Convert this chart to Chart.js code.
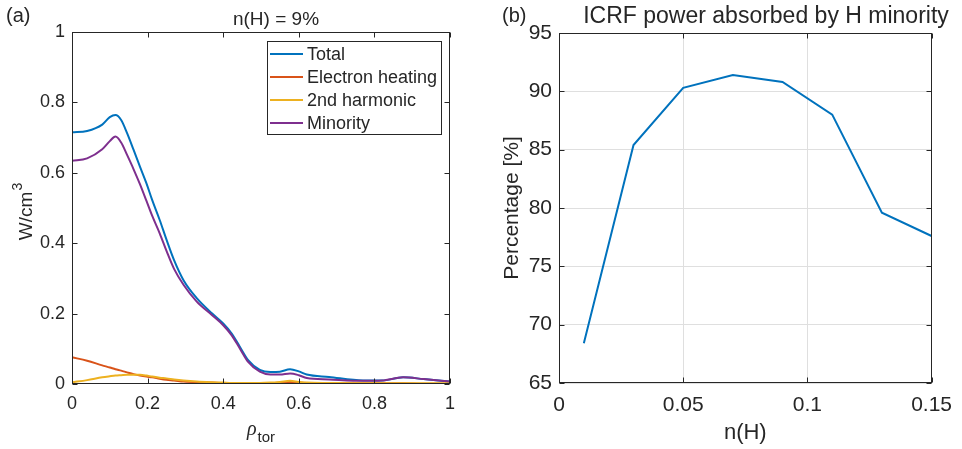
<!DOCTYPE html>
<html>
<head>
<meta charset="utf-8">
<script src="https://cdn.jsdelivr.net/npm/chart.js@4"></script>
<style>
  html, body { margin: 0; padding: 0; background: #fff; }
  #wrap { position: relative; width: 962px; height: 449px; }
  .panel { position: absolute; top: 0; }
</style>
</head>
<body>
<div id="wrap">
  <div class="panel" style="left:0"><canvas id="left" width="480" height="449"></canvas></div>
  <div class="panel" style="left:480px"><canvas id="right" width="482" height="449"></canvas></div>
</div>
<script>
// panel (a): power density profiles vs rho_tor
const rho = [0, 0.04, 0.08, 0.1, 0.115, 0.13, 0.146, 0.163, 0.18, 0.197, 0.212, 0.232, 0.25, 0.27, 0.295, 0.33, 0.37, 0.4, 0.422, 0.444, 0.466, 0.497, 0.525, 0.55, 0.577, 0.6, 0.621, 0.68, 0.77, 0.82, 0.876, 0.93, 1.0];
const total = [0.715, 0.719, 0.737, 0.758, 0.764, 0.750, 0.712, 0.665, 0.617, 0.570, 0.523, 0.466, 0.410, 0.352, 0.295, 0.244, 0.201, 0.172, 0.144, 0.106, 0.068, 0.040, 0.034, 0.035, 0.042, 0.036, 0.027, 0.020, 0.010, 0.010, 0.019, 0.014, 0.007];
const electron = [0.076, 0.066, 0.053, 0.047, 0.042, 0.038, 0.033, 0.028, 0.024, 0.021, 0.019, 0.015, 0.012, 0.010, 0.007, 0.005, 0.004, 0.003, 0.003, 0.003, 0.003, 0.003, 0.003, 0.004, 0.006, 0.004, 0.003, 0.002, 0.002, 0.002, 0.002, 0.001, 0.001];
const second = [0.005, 0.011, 0.019, 0.022, 0.024, 0.025, 0.026, 0.026, 0.026, 0.024, 0.021, 0.018, 0.016, 0.013, 0.010, 0.007, 0.005, 0.004, 0.003, 0.003, 0.003, 0.003, 0.004, 0.006, 0.009, 0.006, 0.004, 0.003, 0.002, 0.002, 0.002, 0.002, 0.002];
const minority = [0.634, 0.641, 0.667, 0.690, 0.703, 0.686, 0.650, 0.610, 0.567, 0.520, 0.478, 0.428, 0.378, 0.327, 0.282, 0.234, 0.196, 0.167, 0.139, 0.101, 0.063, 0.035, 0.027, 0.027, 0.030, 0.025, 0.017, 0.013, 0.009, 0.010, 0.019, 0.014, 0.007];
const seriesNames = ["Total", "Electron heating", "2nd harmonic", "Minority"];
const seriesColors = ["#0072BD", "#D95319", "#EDB120", "#7E2F8E"];

// panel (b): absorbed fraction vs n(H)
const nH = [0.01, 0.03, 0.05, 0.07, 0.09, 0.11, 0.13, 0.15];
const percent = [68.4, 85.4, 90.3, 91.4, 90.8, 88.0, 79.6, 77.6];

const ink = "#262626";
const fam = "'Liberation Sans', Arial, sans-serif";
const fmt = v => String(+Number(v).toFixed(2));

// MATLAB style box with inward ticks, plus free text
const matlabBox = {
  id: "matlabBox",
  afterDraw(chart, args, opts) {
    const { ctx, chartArea: a, scales } = chart;
    const L = Math.round(a.left) + 0.5, R = Math.round(a.right) - 0.5;
    const T = Math.round(a.top) + 0.5, B = Math.round(a.bottom) - 0.5;
    ctx.save();
    ctx.strokeStyle = ink;
    ctx.lineWidth = 1;
    ctx.beginPath();
    scales.x.ticks.forEach(t => {
      const p = Math.round(scales.x.getPixelForValue(t.value)) + 0.5;
      ctx.moveTo(p, B); ctx.lineTo(p, B - 5);
      ctx.moveTo(p, T); ctx.lineTo(p, T + 5);
    });
    scales.y.ticks.forEach(t => {
      const p = Math.round(scales.y.getPixelForValue(t.value)) + 0.5;
      ctx.moveTo(L, p); ctx.lineTo(L + 5, p);
      ctx.moveTo(R, p); ctx.lineTo(R - 5, p);
    });
    ctx.stroke();
    ctx.strokeRect(L, T, R - L, B - T);

    ctx.fillStyle = ink;
    ctx.textBaseline = "middle";
    (opts.texts || []).forEach(t => {
      ctx.font = t.font;
      ctx.textAlign = t.align || "center";
      ctx.fillText(t.text, t.x, t.y);
    });

    if (opts.legend) {
      const lg = opts.legend;
      ctx.fillStyle = "#fff";
      ctx.fillRect(lg.x, lg.y, lg.w, lg.h);
      ctx.strokeRect(lg.x + 0.5, lg.y + 0.5, lg.w, lg.h);
      ctx.font = "18px " + fam;
      ctx.textAlign = "left";
      chart.data.datasets.forEach((ds, i) => {
        const cy = lg.y + 13 + i * 23;
        ctx.strokeStyle = ds.borderColor;
        ctx.lineWidth = 2;
        ctx.beginPath();
        ctx.moveTo(lg.x + 3, cy); ctx.lineTo(lg.x + 36, cy);
        ctx.stroke();
        ctx.fillStyle = ink;
        ctx.fillText(ds.label, lg.x + 40, cy + 1);
      });
    }

    if (opts.rhoLabel) {
      const r = opts.rhoLabel;
      ctx.fillStyle = ink;
      ctx.textAlign = "left";
      ctx.font = "italic 20px 'Liberation Serif', serif";
      ctx.fillText("\u03C1", r.x, r.y);
      const w = ctx.measureText("\u03C1").width;
      ctx.font = "15px " + fam;
      ctx.fillText("tor", r.x + w + 1, r.y + 8);
    }

    if (opts.unitLabel) {
      // W/cm^3 rotated, with a real superscript
      const u = opts.unitLabel;
      ctx.translate(u.x, u.y);
      ctx.rotate(-Math.PI / 2);
      ctx.fillStyle = ink;
      ctx.font = "19px " + fam;
      const w1 = ctx.measureText("W/cm").width;
      ctx.font = "14px " + fam;
      const w2 = ctx.measureText("3").width;
      const x0 = -(w1 + w2) / 2;
      ctx.textAlign = "left";
      ctx.font = "19px " + fam;
      ctx.fillText("W/cm", x0, 0);
      ctx.font = "14px " + fam;
      ctx.fillText("3", x0 + w1 + 1, -9);
    }
    ctx.restore();
  }
};

function fixBox(w, h) {
  return s => { if (w != null) s.width = w; if (h != null) s.height = h; };
}

new Chart(document.getElementById("left"), {
  type: "line",
  data: {
    datasets: [total, electron, second, minority].map((vals, i) => ({
      label: seriesNames[i],
      data: rho.map((r, k) => ({ x: r, y: vals[k] })),
      borderColor: seriesColors[i],
      borderWidth: 2,
      pointRadius: 0,
      cubicInterpolationMode: "monotone",
      order: 4 - i
    }))
  },
  options: {
    responsive: false,
    animation: false,
    layout: { padding: { left: 0, top: 32, right: 30, bottom: 0 } },
    plugins: {
      legend: { display: false },
      tooltip: { enabled: false },
      matlabBox: {
        texts: [
          { text: "(a)", x: 6, y: 16, font: "20px " + fam, align: "left" },
          { text: "n(H) = 9%", x: 276, y: 20, font: "19px " + fam }
        ],
        legend: { x: 267, y: 41, w: 174, h: 93 },
        rhoLabel: { x: 247, y: 430 },
        unitLabel: { x: 27, y: 212 }
      }
    },
    scales: {
      x: {
        type: "linear", min: 0, max: 1,
        afterFit: fixBox(null, 65),
        grid: { display: false, drawTicks: false },
        border: { display: false },
        ticks: { stepSize: 0.2, padding: 9, color: ink, font: { family: fam, size: 18 }, maxRotation: 0, callback: fmt }
      },
      y: {
        min: 0, max: 1,
        afterFit: fixBox(72, null),
        grid: { display: false, drawTicks: false },
        border: { display: false },
        ticks: { stepSize: 0.2, padding: 7, color: ink, font: { family: fam, size: 18 }, callback: fmt }
      }
    }
  },
  plugins: [matlabBox]
});

new Chart(document.getElementById("right"), {
  type: "line",
  data: {
    datasets: [{
      label: "H minority",
      data: nH.map((v, k) => ({ x: v, y: percent[k] })),
      borderColor: "#0072BD",
      borderWidth: 2,
      pointRadius: 0,
      tension: 0
    }]
  },
  options: {
    responsive: false,
    animation: false,
    layout: { padding: { left: 0, top: 33, right: 22, bottom: 0 } },
    plugins: {
      legend: { display: false },
      tooltip: { enabled: false },
      matlabBox: {
        texts: [
          { text: "(b)", x: 22, y: 16, font: "20px " + fam, align: "left" },
          { text: "ICRF power absorbed by H minority", x: 286, y: 17, font: "23px " + fam }
        ]
      }
    },
    scales: {
      x: {
        type: "linear", min: 0, max: 0.15,
        afterFit: fixBox(null, 66),
        grid: { color: "#dfdfdf", drawTicks: false },
        border: { display: false },
        ticks: { stepSize: 0.05, padding: 10, color: ink, font: { family: fam, size: 21 }, maxRotation: 0, callback: fmt },
        title: { display: true, text: "n(H)", color: ink, font: { family: fam, size: 22 }, padding: { top: 0, bottom: 3 } }
      },
      y: {
        min: 65, max: 95,
        afterFit: fixBox(79, null),
        grid: { color: "#dfdfdf", drawTicks: false },
        border: { display: false },
        ticks: { stepSize: 5, padding: 7, color: ink, font: { family: fam, size: 21 } },
        title: { display: true, text: "Percentage [%]", color: ink, font: { family: fam, size: 21 }, padding: { top: 20, bottom: 0 } }
      }
    }
  },
  plugins: [matlabBox]
});
</script>
</body>
</html>
